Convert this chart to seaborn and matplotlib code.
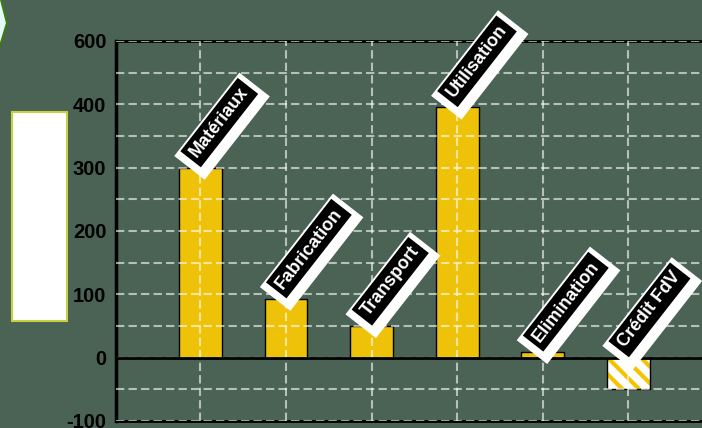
import matplotlib
matplotlib.use("Agg")
import matplotlib.pyplot as plt
import matplotlib.patches as mpatches
import seaborn as sns
import pandas as pd

categories = ["Matériaux", "Fabrication", "Transport", "Utilisation", "Elimination", "Crédit FdV"]
values = [300, 93, 50, 395, 9, -50]
ytick_values = [-100, 0, 100, 200, 300, 400, 500]
ytick_labels = ["-100", "0", "100", "200", "300", "400", "600"]

BG = "#4a6354"
BAR = "#efc20a"

sns.set_style("white")
plt.rcParams["font.family"] = ["Liberation Sans", "DejaVu Sans"]
plt.rcParams["hatch.linewidth"] = 3.0

df = pd.DataFrame({"cat": categories, "val": values})

fig = plt.figure(figsize=(7.02, 4.28), dpi=100, facecolor=BG)
ax = fig.add_axes([116 / 702, 7 / 428, 598 / 702, 380 / 428])
ax.set_facecolor(BG)

sns.barplot(data=df, x="cat", y="val", color=BAR, saturation=1, width=0.5,
            edgecolor="black", linewidth=1, ax=ax)

# hatched negative bar
p = ax.patches[len(categories) - 1]
p.set_facecolor("white")
p.set_edgecolor("#f5c400")
p.set_hatch("\\\\")
p.set_linewidth(0)
ax.add_patch(mpatches.Rectangle(p.get_xy(), p.get_width(), p.get_height(),
                                fill=False, edgecolor="black", lw=1, zorder=p.get_zorder() + 0.1))

ax.set_xlim(-0.985, 6.0)
ax.set_ylim(-100, 500)
ax.set_yticks(ytick_values)
ax.set_yticklabels(ytick_labels)
ax.set_yticks(list(range(-100, 501, 50)), minor=True)
ax.tick_params(axis="y", which="both", length=0, pad=7, labelsize=14.5, labelcolor="black")
for t in ax.get_yticklabels():
    t.set_fontweight("bold")
ax.set_xticks(range(len(categories)))
ax.set_xticklabels([])
ax.tick_params(axis="x", length=0)
ax.set_xlabel("")
ax.set_ylabel("")

ax.set_axisbelow(False)
grid_kw = dict(color="white", alpha=0.6, linestyle=(0, (4, 2)), linewidth=1.5)
ax.grid(axis="y", which="both", **grid_kw)
ax.grid(axis="x", which="major", **grid_kw)

ax.axhline(0, color="black", lw=2, zorder=3)

for side in ["top", "bottom", "left"]:
    ax.spines[side].set_visible(True)
    ax.spines[side].set_color("black")
ax.spines["top"].set_linewidth(2)
ax.spines["bottom"].set_linewidth(2)
ax.spines["left"].set_linewidth(2.5)
ax.spines["right"].set_visible(False)

# labels
for i, (name, v) in enumerate(zip(categories, values)):
    base = max(v, 0)
    ax.annotate(name, xy=(i, base), xytext=(-3.0, 6.0), textcoords="offset points",
                rotation=52, rotation_mode="anchor", ha="left", va="center",
                fontsize=13, fontweight="bold", color=(0, 0, 0, 0), zorder=4,
                bbox=dict(boxstyle="square,pad=0.6", fc="white", ec="none"),
                annotation_clip=False)
    ax.annotate(name, xy=(i, base), xytext=(-5.0, 8.6), textcoords="offset points",
                rotation=52, rotation_mode="anchor", ha="left", va="center",
                fontsize=13, fontweight="bold", color="white", zorder=5,
                bbox=dict(boxstyle="square,pad=0.25", fc="black", ec="none"),
                annotation_clip=False)

# left white box
fig.patches.append(mpatches.Rectangle((12 / 702, 1 - 321 / 428), 55 / 702, 209 / 428,
                                      transform=fig.transFigure, fc="white",
                                      ec="#c8d040", lw=1.5, zorder=1))
# chevron at top-left
fig.patches.append(mpatches.Polygon([(-5 / 702, 1.01), (0 / 702, 1.01), (7 / 702, 1 - 23 / 428),
                                     (0 / 702, 1 - 46 / 428), (-5 / 702, 1 - 46 / 428)],
                                    closed=True, transform=fig.transFigure,
                                    fc="#e4fafa", ec="#3f7a12", lw=1.5, zorder=1))

fig.savefig("out.png", dpi=100, facecolor=BG)
